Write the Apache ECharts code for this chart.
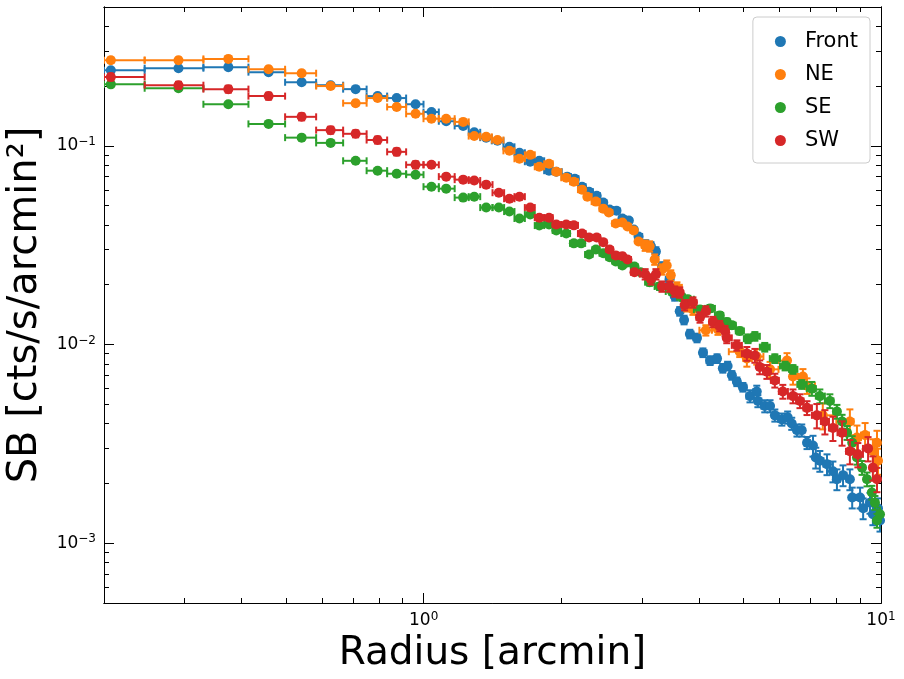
<!DOCTYPE html>
<html>
<head>
<meta charset="utf-8">
<script src="https://cdn.jsdelivr.net/npm/echarts@6/dist/echarts.min.js"></script>
<style>html,body{margin:0;padding:0;background:#fff}#main{width:904px;height:679px}</style>
</head>
<body>
<div id="main"></div>
<script>
// radius [arcmin], surface brightness [cts/s/arcmin^2]
var frontR = [0.207,0.291,0.374,0.458,0.541,0.626,0.710,0.793,0.873,0.960,1.04,1.12,1.22,1.29,1.37,1.45,1.54,1.62,1.71,1.79,1.88,1.95,2.06,2.14,2.22,2.30,2.39,2.47,2.55,2.64,2.72,2.81,2.88,2.95,3.06,3.14,3.22,3.32,3.45,3.54,3.63,3.71,3.82,3.96,4.08,4.23,4.38,4.51,4.62,4.72,4.84,4.99,5.17,5.35,5.38,5.57,5.72,5.86,6.07,6.25,6.38,6.55,6.71,6.89,7.10,7.20,7.35,7.62,7.85,8.01,8.26,8.55,8.65,9.00,9.14,9.46,9.60,9.85,9.95];
var frontSB = [0.240,0.246,0.249,0.235,0.209,0.202,0.193,0.178,0.174,0.162,0.148,0.133,0.126,0.117,0.110,0.106,0.0989,0.0923,0.0832,0.0841,0.0750,0.0741,0.0700,0.0684,0.0623,0.0588,0.0561,0.0518,0.0478,0.0472,0.0431,0.0421,0.0379,0.0350,0.0319,0.0312,0.0294,0.0247,0.0213,0.0175,0.0147,0.0133,0.0113,0.0108,0.0091,0.0083,0.0085,0.0076,0.0078,0.0070,0.0065,0.0061,0.0055,0.0058,0.0052,0.0049,0.0049,0.0044,0.0042,0.0043,0.0040,0.0037,0.0037,0.0032,0.0031,0.0027,0.0026,0.0025,0.0023,0.0021,0.0022,0.0021,0.0017,0.0017,0.0015,0.0016,0.0014,0.0015,0.0013];
var neR = [0.207,0.291,0.374,0.458,0.541,0.626,0.710,0.793,0.873,0.960,1.04,1.12,1.22,1.29,1.37,1.45,1.54,1.62,1.71,1.79,1.88,1.95,2.05,2.13,2.22,2.28,2.38,2.47,2.54,2.63,2.72,2.79,2.88,2.95,3.05,3.12,3.20,3.32,3.40,3.47,3.58,3.76,3.88,4.14,4.40,4.91,5.09,5.35,5.72,6.23,6.42,6.75,6.89,7.46,8.55,8.86,9.23,9.60,9.80,9.85];
var neSB = [0.270,0.270,0.274,0.243,0.232,0.200,0.164,0.174,0.157,0.145,0.137,0.137,0.132,0.112,0.111,0.107,0.0944,0.0861,0.0901,0.0785,0.0812,0.0741,0.0691,0.0660,0.0602,0.0555,0.0524,0.0483,0.0462,0.0407,0.0411,0.0393,0.0375,0.0330,0.0315,0.0312,0.0268,0.0239,0.0250,0.0223,0.0194,0.0156,0.0150,0.0118,0.0119,0.0092,0.0085,0.0087,0.0075,0.0083,0.0069,0.0069,0.0062,0.0044,0.0041,0.0034,0.0035,0.0029,0.0032,0.0026];
var seR = [0.207,0.291,0.374,0.458,0.541,0.626,0.710,0.793,0.873,0.960,1.04,1.12,1.22,1.29,1.37,1.46,1.54,1.62,1.71,1.79,1.88,1.95,2.05,2.13,2.21,2.30,2.38,2.47,2.55,2.63,2.72,2.79,2.89,2.98,3.12,3.28,3.49,3.67,3.78,4.02,4.23,4.44,4.60,4.72,4.91,5.12,5.30,5.57,5.86,6.17,6.42,6.71,7.06,7.35,7.73,8.01,8.22,8.43,8.65,8.86,9.09,9.32,9.55,9.70,9.80,9.95];
var seSB = [0.204,0.195,0.162,0.129,0.110,0.1035,0.0841,0.0750,0.0724,0.0716,0.0623,0.0609,0.0549,0.0555,0.0489,0.0489,0.0467,0.0431,0.0451,0.0397,0.0402,0.0375,0.0362,0.0323,0.0323,0.0284,0.0301,0.0288,0.0275,0.0262,0.0250,0.0259,0.0247,0.0231,0.0206,0.0196,0.0185,0.0173,0.0169,0.0150,0.0152,0.0140,0.0130,0.0125,0.0117,0.0107,0.0110,0.0097,0.0085,0.0078,0.0075,0.0063,0.0060,0.0055,0.0052,0.0046,0.0041,0.0036,0.0032,0.0027,0.0024,0.0021,0.0018,0.0016,0.0013,0.0014];
var swR = [0.207,0.291,0.374,0.458,0.541,0.626,0.710,0.793,0.873,0.960,1.04,1.12,1.22,1.29,1.37,1.46,1.54,1.62,1.71,1.79,1.88,1.95,2.05,2.13,2.22,2.30,2.39,2.47,2.55,2.63,2.72,2.79,2.89,3.05,3.14,3.22,3.32,3.45,3.54,3.63,3.72,3.88,4.02,4.14,4.29,4.44,4.56,4.60,4.84,5.09,5.30,5.43,5.63,5.86,6.10,6.42,6.65,6.89,7.24,7.54,7.85,8.22,8.55,8.90,9.37,9.60,9.80];
var swSB = [0.222,0.202,0.193,0.178,0.140,0.120,0.115,0.107,0.0933,0.0803,0.0803,0.0700,0.0676,0.0669,0.0638,0.0581,0.0542,0.0555,0.0489,0.0435,0.0435,0.0402,0.0402,0.0398,0.0362,0.0346,0.0346,0.0327,0.0301,0.0281,0.0278,0.0268,0.0231,0.0226,0.0213,0.0226,0.0196,0.0196,0.0185,0.0183,0.0158,0.0163,0.0137,0.0147,0.0130,0.0124,0.0117,0.0108,0.0099,0.0090,0.0088,0.0077,0.0073,0.0066,0.0058,0.0055,0.0052,0.0048,0.0044,0.0041,0.0038,0.0036,0.0029,0.0028,0.0030,0.0024,0.0021];
// fractional y errors read by radius band: [upper radius, fraction]
var frontErr = [[1,0.02],[3,0.02],[5,0.05],[7,0.07],[10,0.12]];
var neErr = [[1,0.03],[3,0.02],[5,0.06],[7,0.09],[10,0.15]];
var seErr = [[1,0.02],[3,0.02],[5,0.04],[7,0.05],[10,0.08]];
var swErr = [[1,0.04],[3,0.03],[5,0.06],[7,0.08],[10,0.14]];

var names = ['Front','NE','SE','SW'];
var colors = ['#1f77b4','#ff7f0e','#2ca02c','#d62728'];
var xMajor = [1,10];
var yMajor = [0.001,0.01,0.1];
var xMinor = [0.3,0.4,0.5,0.6,0.7,0.8,0.9,2,3,4,5,6,7,8,9];
var yMinor = [0.0006,0.0007,0.0008,0.0009,0.002,0.003,0.004,0.005,0.006,0.007,0.008,0.009,0.02,0.03,0.04,0.05,0.06,0.07,0.08,0.09,0.2,0.3,0.4,0.5];

function build(rs, sb, bands){
  return rs.map(function(r,i){
    var lo = i>0 ? Math.sqrt(rs[i-1]*r) : 0.2;
    var hi = i<rs.length-1 ? Math.sqrt(r*rs[i+1]) : r+(r-lo);
    var f = bands[bands.length-1][1];
    for (var k=0;k<bands.length;k++){ if (r<=bands[k][0]){ f=bands[k][1]; break; } }
    return [r, sb[i], lo, hi, sb[i]*(1-f), sb[i]*(1+f)];
  });
}
var sets = [build(frontR,frontSB,frontErr),build(neR,neSB,neErr),build(seR,seSB,seErr),build(swR,swSB,swErr)];

function errItem(color){
  return function(params, api){
    var c = api.coord([api.value(0), api.value(1)]);
    var xl = api.coord([api.value(2), api.value(1)]);
    var xh = api.coord([api.value(3), api.value(1)]);
    var yl = api.coord([api.value(0), api.value(4)]);
    var yh = api.coord([api.value(0), api.value(5)]);
    var st = {stroke: color, lineWidth: 2};
    var cap = 3.5;
    return {type:'group', children:[
      {type:'line', shape:{x1:xl[0],y1:c[1],x2:xh[0],y2:c[1]}, style:st},
      {type:'line', shape:{x1:xl[0],y1:c[1]-cap,x2:xl[0],y2:c[1]+cap}, style:st},
      {type:'line', shape:{x1:xh[0],y1:c[1]-cap,x2:xh[0],y2:c[1]+cap}, style:st},
      {type:'line', shape:{x1:c[0],y1:yl[1],x2:c[0],y2:yh[1]}, style:st},
      {type:'line', shape:{x1:c[0]-cap,y1:yl[1],x2:c[0]+cap,y2:yl[1]}, style:st},
      {type:'line', shape:{x1:c[0]-cap,y1:yh[1],x2:c[0]+cap,y2:yh[1]}, style:st}
    ]};
  };
}

var series = [];
sets.forEach(function(d, i){
  series.push({name:names[i], type:'custom', data:d, renderItem:errItem(colors[i]), clip:true,
    encode:{x:0,y:1}, itemStyle:{color:colors[i]}, z:2+i*2, silent:true});
  series.push({name:names[i], type:'scatter', data:d.map(function(p){return [p[0],p[1]];}),
    symbol:'circle', symbolSize:10, itemStyle:{color:colors[i], opacity:1}, z:3+i*2, silent:true, clip:true});
});

var font = 'DejaVu Sans';
var rich = {b:{fontSize:17,fontFamily:font,color:'#000'}, s:{fontSize:12,fontFamily:font,color:'#000',verticalAlign:'top',padding:[0,0,8,0]}};
function powLabel(v){ var e = Math.round(Math.log10(v)); return '{b|10}{s|' + (e<0?'\u2212'+(-e):e) + '}'; }

function xAx(pos, vals, len, label, name){
  return {type:'log', min:0.2, max:10, position:pos, logBase:10,
    axisLine:{show:true, onZero:false, lineStyle:{color:'#000', width:1}},
    axisTick:{show:true, inside:true, length:len, customValues:vals, lineStyle:{color:'#000', width:1}},
    axisLabel:{show:label, customValues:vals, formatter:powLabel, rich:rich, margin:8},
    splitLine:{show:false}, minorTick:{show:false},
    name:name||'', nameLocation:'middle', nameGap:31, nameTextStyle:{fontSize:39, fontFamily:font, color:'#000'}};
}
function yAx(pos, vals, len, label, name){
  return {type:'log', min:0.0005, max:0.5, position:pos, logBase:10,
    axisLine:{show:true, onZero:false, lineStyle:{color:'#000', width:1}},
    axisTick:{show:true, inside:true, length:len, customValues:vals, lineStyle:{color:'#000', width:1}},
    axisLabel:{show:label, customValues:vals, formatter:powLabel, rich:rich, margin:8},
    splitLine:{show:false}, minorTick:{show:false},
    name:name||'', nameLocation:'middle', nameGap:50, nameRotate:90, nameTextStyle:{fontSize:40, fontFamily:font, color:'#000'}};
}

var chart = echarts.init(document.getElementById('main'), null, {renderer:'canvas'});
chart.setOption({
  animation:false,
  backgroundColor:'#fff',
  grid:{left:104, right:23, top:7, bottom:76, containLabel:false, outerBoundsMode:'none'},
  xAxis:[xAx('bottom',xMajor,10,true,'Radius [arcmin]'), xAx('bottom',xMinor,5,false), xAx('top',xMajor,10,false), xAx('top',xMinor,5,false)],
  yAxis:[yAx('left',yMajor,10,true,'SB [cts/s/arcmin\u00b2]'), yAx('left',yMinor,5,false), yAx('right',yMajor,10,false), yAx('right',yMinor,5,false)],
  legend:{data:names.map(function(n){return {name:n, icon:'circle'};}), orient:'vertical', right:34, top:17,
    itemWidth:11, itemHeight:11, itemGap:12, padding:[14,12,12,22], backgroundColor:'rgba(255,255,255,0.8)',
    borderColor:'#ccc', borderWidth:1, borderRadius:4,
    textStyle:{fontSize:21, fontFamily:font, color:'#000', padding:[0,0,0,14]}},
  series:series
});
</script>
</body>
</html>
